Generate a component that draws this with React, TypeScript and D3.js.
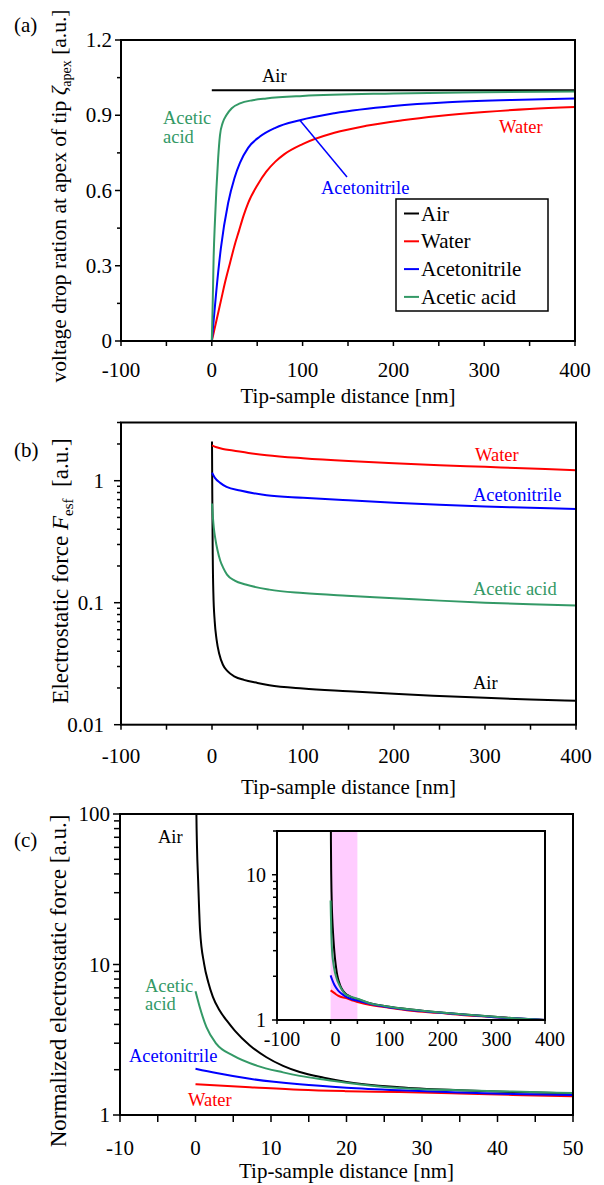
import React from 'react';
import * as d3 from 'd3';

type P = [number, number];

const FONT = "'Liberation Serif', 'Times New Roman', Times, serif";
const RED = '#ff0000';
const BLUE = '#0000ff';
const GREEN = '#339966';
const BLACK = '#000000';
const PINK = '#ffccff';

// ---------- Panel (a): voltage drop ratio at apex of tip ----------
const aXTicks = [-100, 0, 100, 200, 300, 400];
const aXLabels = ['-100', '0', '100', '200', '300', '400'];
const aXMinor = [-50, 50, 150, 250, 350];
const aYTicks = [0, 0.3, 0.6, 0.9, 1.2];
const aYLabels = ['0', '0.3', '0.6', '0.9', '1.2'];
const aYMinor = [0.15, 0.45, 0.75, 1.05];

const zetaAir: P[] = [[0, 1], [400, 1]];
const zetaWater: P[] = [[0, 0], [5, 0.08], [10, 0.16], [15, 0.24], [20, 0.31], [25, 0.38], [30, 0.44], [35, 0.5], [40, 0.55], [50, 0.62], [60, 0.675], [70, 0.715], [80, 0.745], [100, 0.785], [135, 0.83], [170, 0.858], [210, 0.88], [250, 0.897], [300, 0.913], [350, 0.925], [400, 0.933]];
const zetaAcetonitrile: P[] = [[0, 0], [2, 0.08], [5, 0.2], [10, 0.37], [18, 0.55], [25, 0.65], [31, 0.71], [40, 0.77], [53, 0.815], [70, 0.85], [97, 0.88], [135, 0.908], [200, 0.937], [260, 0.952], [330, 0.961], [400, 0.967]];
const zetaAceticAcid: P[] = [[0, 0], [1, 0.15], [2, 0.33], [3.5, 0.48], [5, 0.6], [7, 0.73], [9, 0.82], [12, 0.87], [16, 0.9], [22, 0.928], [31, 0.947], [45, 0.96], [60, 0.967], [100, 0.977], [200, 0.987], [300, 0.992], [400, 0.995]];

const legendNames = ['Air', 'Water', 'Acetonitrile', 'Acetic acid'];
const legendColors = [BLACK, RED, BLUE, GREEN];

// ---------- Panel (b): electrostatic force ----------
const bYTicks = [0.01, 0.1, 1];
const bYLabels = ['0.01', '0.1', '1'];
const bYMinor = [0.02, 0.03, 0.04, 0.05, 0.06, 0.07, 0.08, 0.09, 0.2, 0.3, 0.4, 0.5, 0.6, 0.7, 0.8, 0.9, 2, 3];

const fAir: P[] = [[0, 2.1], [0.3, 0.8], [0.8, 0.25], [1.5, 0.12], [3, 0.07], [5, 0.05], [8, 0.038], [12, 0.031], [17, 0.0275], [25, 0.0248], [35, 0.0233], [50, 0.022], [63, 0.0211], [100, 0.0198], [150, 0.0188], [200, 0.0179], [250, 0.0172], [300, 0.0166], [350, 0.0161], [400, 0.0157]];
const fWater: P[] = [[0, 1.95], [5, 1.88], [12, 1.82], [23, 1.77], [40, 1.69], [60, 1.62], [100, 1.53], [150, 1.45], [200, 1.39], [250, 1.34], [300, 1.3], [350, 1.26], [400, 1.22]];
const fAcetonitrile: P[] = [[0, 1.16], [3, 1.06], [9, 0.96], [16, 0.89], [31, 0.83], [60, 0.76], [100, 0.725], [150, 0.69], [200, 0.66], [250, 0.635], [300, 0.615], [350, 0.6], [400, 0.585]];
const fAceticAcid: P[] = [[0, 0.65], [1, 0.5], [2, 0.41], [3.5, 0.34], [6, 0.27], [9, 0.222], [12.5, 0.192], [16.5, 0.17], [25, 0.152], [37, 0.141], [63, 0.128], [100, 0.12], [148, 0.114], [200, 0.109], [250, 0.104], [300, 0.1], [350, 0.097], [400, 0.095]];

// ---------- Panel (c): normalized electrostatic force ----------
const cXTicks = [-10, 0, 10, 20, 30, 40, 50];
const cXLabels = ['-10', '0', '10', '20', '30', '40', '50'];
const cXMinor = [-5, 5, 15, 25, 35, 45];
const cYTicks = [1, 10, 100];
const cYLabels = ['1', '10', '100'];
const cYMinor = [2, 3, 4, 5, 6, 7, 8, 9, 20, 30, 40, 50, 60, 70, 80, 90];
const insetYTicks = [1, 10];
const insetYLabels = ['1', '10'];
const insetYMinor = [2, 3, 4, 5, 6, 7, 8, 9, 20];
const insetBand: P = [0, 50];

const nAir: P[] = [[0.1, 130], [0.12, 100], [0.2, 60], [0.35, 36], [0.6, 17], [1.14, 10.1], [1.7, 7.6], [2.3, 6.1], [3.2, 4.95], [4.2, 4.2], [5.2, 3.64], [7.2, 2.9], [9.4, 2.42], [11.6, 2.12], [13.8, 1.93], [17, 1.77], [20, 1.66], [27, 1.53], [35, 1.46], [42, 1.42], [50, 1.39], [75, 1.3], [100, 1.25], [150, 1.18], [200, 1.13], [250, 1.09], [300, 1.055], [350, 1.025], [400, 1.0]];
const nWater: P[] = [[0, 1.6], [7.2, 1.53], [13.8, 1.47], [20, 1.44], [27, 1.42], [35, 1.39], [42, 1.36], [50, 1.33], [75, 1.27], [100, 1.23], [150, 1.16], [200, 1.12], [250, 1.08], [300, 1.05], [350, 1.02], [400, 1.0]];
const nAcetonitrile: P[] = [[0, 2.03], [2.77, 1.9], [7.2, 1.74], [13.8, 1.6], [20, 1.52], [27, 1.46], [35, 1.41], [42, 1.38], [50, 1.36], [75, 1.29], [100, 1.24], [150, 1.17], [200, 1.125], [250, 1.085], [300, 1.05], [350, 1.025], [400, 1.0]];
const nAceticAcid: P[] = [[0, 6.65], [0.57, 5.2], [1.45, 3.83], [2.77, 2.97], [5, 2.48], [8.1, 2.13], [11.6, 1.92], [13.8, 1.82], [17, 1.72], [20, 1.64], [27, 1.51], [35, 1.46], [42, 1.43], [50, 1.4], [75, 1.3], [100, 1.25], [150, 1.18], [200, 1.13], [250, 1.09], [300, 1.055], [350, 1.025], [400, 1.0]];

type Scale = (v: number) => number;

function XAxis(props: { s: Scale; y: number; majors: number[]; minors: number[]; labels: string[]; len: number; labelY: number; fs: number; dx?: number }) {
  const { s, y, majors, minors, labels, len, labelY, fs, dx = 0 } = props;
  return (
    <g>
      {majors.concat(minors).map((v, i) => (
        <line key={'t' + i} x1={s(v)} x2={s(v)} y1={y} y2={y + len} stroke={BLACK} strokeWidth={1.5} />
      ))}
      {majors.map((v, i) => (
        <text key={'l' + i} x={s(v) + dx} y={labelY} textAnchor="middle" fontSize={fs}>{labels[i]}</text>
      ))}
    </g>
  );
}

function YAxis(props: { s: Scale; x: number; majors: number[]; minors: number[]; labels: string[]; majLen: number; minLen: number; labelX: number; fs: number }) {
  const { s, x, majors, minors, labels, majLen, minLen, labelX, fs } = props;
  return (
    <g>
      {majors.map((v, i) => (
        <line key={'M' + i} x1={x - majLen} x2={x} y1={s(v)} y2={s(v)} stroke={BLACK} strokeWidth={1.5} />
      ))}
      {minors.map((v, i) => (
        <line key={'m' + i} x1={x - minLen} x2={x} y1={s(v)} y2={s(v)} stroke={BLACK} strokeWidth={1.5} />
      ))}
      {majors.map((v, i) => (
        <text key={'l' + i} x={labelX} y={s(v) + fs * 0.34} textAnchor="end" fontSize={fs}>{labels[i]}</text>
      ))}
    </g>
  );
}

function path(data: P[], xs: Scale, ys: Scale): string {
  return d3.line<P>().x(d => xs(d[0])).y(d => ys(d[1])).curve(d3.curveMonotoneX)(data) || '';
}

export default function App() {
  // Panel (a)
  const aL = 121, aR = 575, aT = 40, aB = 341;
  const ax = d3.scaleLinear().domain([-100, 400]).range([aL, aR]);
  const ay = d3.scaleLinear().domain([0, 1.2]).range([aB, aT]);

  // Panel (b)
  const bL = 121, bR = 576, bT = 422.5, bB = 724.7;
  const bx = d3.scaleLinear().domain([-100, 400]).range([bL, bR]);
  const by = d3.scaleLog().domain([0.01, 3]).range([bB, bT]);

  // Panel (c)
  const cL = 120, cR = 573, cT = 814, cB = 1115;
  const cx = d3.scaleLinear().domain([-10, 50]).range([cL, cR]);
  const cy = d3.scaleLog().domain([1, 100]).range([cB, cT]);

  // Inset
  const iL = 277, iR = 545, iT = 831, iB = 1020;
  const ix = d3.scaleLinear().domain([-100, 400]).range([iL, iR]);
  const iy = d3.scaleLog().domain([1, 20]).range([iB, iT]);

  const TFS = 21;
  const ANN = 18.5;

  const aSeries: [P[], string][] = [[zetaAir, BLACK], [zetaWater, RED], [zetaAcetonitrile, BLUE], [zetaAceticAcid, GREEN]];
  const bSeries: [P[], string][] = [[fAir, BLACK], [fWater, RED], [fAcetonitrile, BLUE], [fAceticAcid, GREEN]];
  const cSeries: [P[], string][] = [[nAir, BLACK], [nWater, RED], [nAcetonitrile, BLUE], [nAceticAcid, GREEN]];

  const legX = 396, legY = 199, legW = 152, legH = 112;

  return (
    <svg width={604} height={1185} style={{ position: 'absolute', left: 0, top: 0, background: '#fff', fontFamily: FONT }} fontFamily={FONT}>
      <defs>
        <clipPath id="clipA"><rect x={aL} y={aT} width={aR - aL} height={aB - aT} /></clipPath>
        <clipPath id="clipB"><rect x={bL} y={bT} width={bR - bL} height={bB - bT} /></clipPath>
        <clipPath id="clipC"><rect x={cL} y={cT} width={cR - cL} height={cB - cT} /></clipPath>
        <clipPath id="clipI"><rect x={iL} y={iT} width={iR - iL} height={iB - iT} /></clipPath>
      </defs>
      <rect x={0} y={0} width={604} height={1185} fill="#fff" />

      {/* ================= Panel (a) ================= */}
      <text x={14} y={32} fontSize={TFS}>(a)</text>
      <g clipPath="url(#clipA)">
        {aSeries.map(([d, c], i) => (
          <path key={i} d={path(d, ax, ay)} fill="none" stroke={c} strokeWidth={2} />
        ))}
      </g>
      <rect x={aL} y={aT} width={aR - aL} height={aB - aT} fill="none" stroke={BLACK} strokeWidth={2} />
      <XAxis s={ax} y={aB} majors={aXTicks} minors={aXMinor} labels={aXLabels} len={5} labelY={377} fs={TFS} />
      <YAxis s={ay} x={aL} majors={aYTicks} minors={aYMinor} labels={aYLabels} majLen={6} minLen={4} labelX={112} fs={TFS} />
      <text x={(aL + aR) / 2} y={403} textAnchor="middle" fontSize={TFS}>Tip-sample distance [nm]</text>
      <text transform="translate(66,196) rotate(-90)" textAnchor="middle" fontSize={21.5}>
        voltage drop ration at apex of tip <tspan fontStyle="italic">ζ</tspan>
        <tspan fontSize={14} dy={5}>apex</tspan>
        <tspan dy={-5}> [a.u.]</tspan>
      </text>
      {/* annotations */}
      <text x={262} y={82} fontSize={ANN} fill={BLACK}>Air</text>
      <text x={163} y={124} fontSize={ANN} fill={GREEN}>Acetic</text>
      <text x={163} y={143} fontSize={ANN} fill={GREEN}>acid</text>
      <text x={499} y={133} fontSize={ANN} fill={RED}>Water</text>
      <text x={321} y={194} fontSize={ANN} fill={BLUE}>Acetonitrile</text>
      <line x1={ax(97)} y1={ay(zetaAcetonitrile[10][1])} x2={347} y2={177} stroke={BLUE} strokeWidth={1.5} />
      {/* legend */}
      <rect x={legX} y={legY} width={legW} height={legH} fill="#fff" stroke={BLACK} strokeWidth={1.5} />
      {legendNames.map((n, i) => {
        const yy = 213.5 + i * 27.8;
        return (
          <g key={n}>
            <line x1={404} x2={419} y1={yy} y2={yy} stroke={legendColors[i]} strokeWidth={2} />
            <text x={421} y={yy + 7} fontSize={TFS}>{n}</text>
          </g>
        );
      })}

      {/* ================= Panel (b) ================= */}
      <text x={14} y={457} fontSize={TFS}>(b)</text>
      <g clipPath="url(#clipB)">
        {bSeries.map(([d, c], i) => (
          <path key={i} d={path(d, bx, by)} fill="none" stroke={c} strokeWidth={2} />
        ))}
      </g>
      <rect x={bL} y={bT} width={bR - bL} height={bB - bT} fill="none" stroke={BLACK} strokeWidth={2} />
      <XAxis s={bx} y={bB} majors={aXTicks} minors={aXMinor} labels={aXLabels} len={5} labelY={763} fs={TFS} />
      <YAxis s={by} x={bL} majors={bYTicks} minors={bYMinor} labels={bYLabels} majLen={7} minLen={4} labelX={104} fs={TFS} />
      <text x={(bL + bR) / 2} y={794} textAnchor="middle" fontSize={TFS}>Tip-sample distance [nm]</text>
      <text transform="translate(68,571) rotate(-90)" textAnchor="middle" fontSize={23}>
        Electrostatic force <tspan fontStyle="italic">F</tspan>
        <tspan fontSize={15} dy={5}>esf</tspan>
        <tspan dy={-5}>{'\u00a0 [a.u.]'}</tspan>
      </text>
      <text x={475} y={461} fontSize={ANN} fill={RED}>Water</text>
      <text x={473} y={501} fontSize={ANN} fill={BLUE}>Acetonitrile</text>
      <text x={473} y={595} fontSize={ANN} fill={GREEN}>Acetic acid</text>
      <text x={473} y={689} fontSize={ANN} fill={BLACK}>Air</text>

      {/* ================= Panel (c) ================= */}
      <text x={14} y={847} fontSize={TFS}>(c)</text>
      <g clipPath="url(#clipC)">
        {cSeries.map(([d, c], i) => (
          <path key={i} d={path(d, cx, cy)} fill="none" stroke={c} strokeWidth={2} />
        ))}
      </g>
      <rect x={cL} y={cT} width={cR - cL} height={cB - cT} fill="none" stroke={BLACK} strokeWidth={2} />
      <XAxis s={cx} y={cB} majors={cXTicks} minors={cXMinor} labels={cXLabels} len={7} labelY={1155} fs={TFS} />
      <YAxis s={cy} x={cL} majors={cYTicks} minors={cYMinor} labels={cYLabels} majLen={7} minLen={6} labelX={110} fs={TFS} />
      <text x={(cL + cR) / 2} y={1178} textAnchor="middle" fontSize={TFS}>Tip-sample distance [nm]</text>
      <text transform="translate(66,981) rotate(-90)" textAnchor="middle" fontSize={23}>
        Normalized electrostatic force [a.u.]
      </text>
      <text x={158} y={843} fontSize={ANN} fill={BLACK}>Air</text>
      <text x={145} y={992} fontSize={ANN} fill={GREEN}>Acetic</text>
      <text x={145} y={1010} fontSize={ANN} fill={GREEN}>acid</text>
      <text x={129} y={1062} fontSize={ANN} fill={BLUE}>Acetonitrile</text>
      <text x={188} y={1106} fontSize={ANN} fill={RED}>Water</text>

      {/* ---- inset ---- */}
      <rect x={iL} y={iT} width={iR - iL} height={iB - iT} fill="#fff" />
      <rect x={ix(insetBand[0])} y={iT} width={ix(insetBand[1]) - ix(insetBand[0])} height={iB - iT} fill={PINK} />
      <g clipPath="url(#clipI)">
        {cSeries.map(([d, c], i) => (
          <path key={i} d={path(d, ix, iy)} fill="none" stroke={c} strokeWidth={2} />
        ))}
      </g>
      <rect x={iL} y={iT} width={iR - iL} height={iB - iT} fill="none" stroke={BLACK} strokeWidth={2} />
      <XAxis s={ix} y={iB} majors={aXTicks} minors={aXMinor} labels={aXLabels} len={4} labelY={1046} fs={20} dx={5} />
      <YAxis s={iy} x={iL} majors={insetYTicks} minors={insetYMinor} labels={insetYLabels} majLen={5} minLen={4} labelX={266} fs={20} />
    </svg>
  );
}
